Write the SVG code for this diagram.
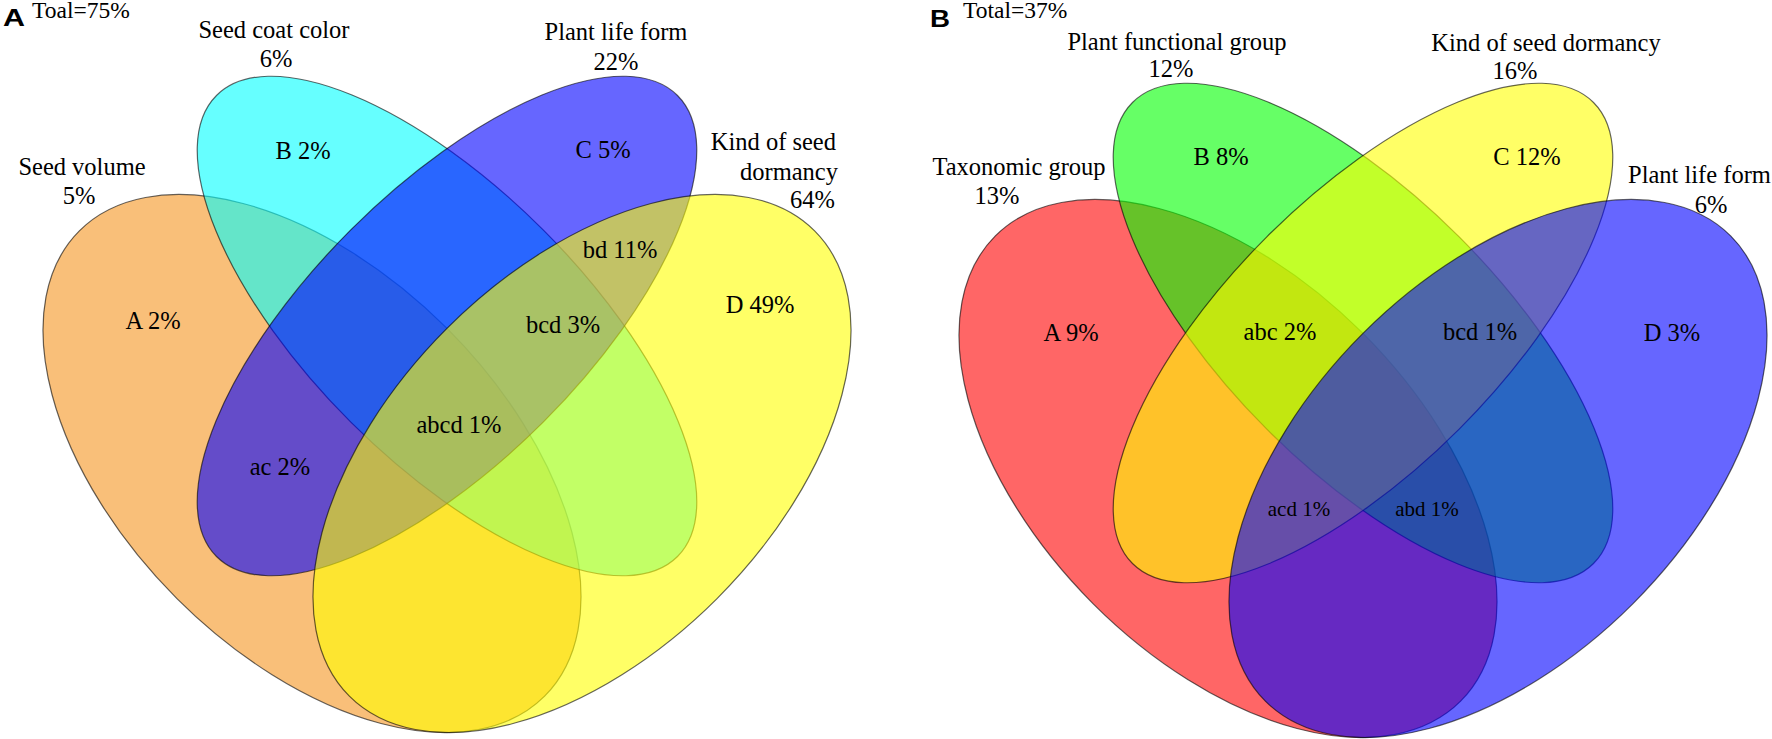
<svg xmlns="http://www.w3.org/2000/svg" width="1772" height="739" viewBox="0 0 1772 739">
<style>
.e{stroke:#000;stroke-opacity:.6;stroke-width:1.2;fill-opacity:.6}
.t{font-family:'Liberation Serif',serif;font-size:24.5px;fill:#000}
.m{text-anchor:middle}
.r{text-anchor:end}
.s{font-size:21px}
.p{font-family:'Liberation Sans',sans-serif;font-weight:bold;font-size:24px;fill:#000}
</style>
<rect width="1772" height="739" fill="#fff"/>
<g id="panelA" font-family="Liberation Serif, serif">
  <text class="p" x="3" y="26" textLength="22" lengthAdjust="spacingAndGlyphs">A</text>
  <text class="t" x="32" y="18" style="font-size:23.5px">Toal=75%</text>
  <g id="A_seed_volume">
    <ellipse class="e" fill="#F5941F" cx="0" cy="0" rx="329" ry="191" transform="translate(312 463.5) rotate(45)"/>
    <text class="t m" x="82" y="175">Seed volume</text>
    <text class="t m" x="79" y="204">5%</text>
  </g>
  <g id="A_seed_coat_color">
    <ellipse class="e" fill="#00FFFF" cx="0" cy="0" rx="326" ry="136" transform="translate(447 326) rotate(45)"/>
    <text class="t m" x="274" y="38">Seed coat color</text>
    <text class="t m" x="276" y="67">6%</text>
  </g>
  <g id="A_plant_life_form">
    <ellipse class="e" fill="#0000FF" cx="0" cy="0" rx="326" ry="136" transform="translate(447 326) rotate(-45)"/>
    <text class="t m" x="616" y="40">Plant life form</text>
    <text class="t m" x="616" y="70">22%</text>
  </g>
  <g id="A_kind_of_seed_dormancy">
    <ellipse class="e" fill="#FFFF00" cx="0" cy="0" rx="329" ry="191" transform="translate(582 463.5) rotate(-45)"/>
    <text class="t r" x="836" y="150">Kind of seed</text>
    <text class="t r" x="838" y="180">dormancy</text>
    <text class="t r" x="835" y="208">64%</text>
  </g>
  <g id="A_region_labels">
    <text class="t m" x="303" y="159">B 2%</text>
    <text class="t m" x="603" y="158">C 5%</text>
    <text class="t m" x="153" y="329">A 2%</text>
    <text class="t m" x="760" y="313">D 49%</text>
    <text class="t m" x="620" y="258">bd 11%</text>
    <text class="t m" x="563" y="333">bcd 3%</text>
    <text class="t m" x="459" y="433">abcd 1%</text>
    <text class="t m" x="280" y="475">ac 2%</text>
  </g>
</g>
<g id="panelB" font-family="Liberation Serif, serif">
  <text class="p" x="930" y="27" textLength="20" lengthAdjust="spacingAndGlyphs">B</text>
  <text class="t" x="963" y="18" style="font-size:23.5px">Total=37%</text>
  <g id="B_taxonomic_group">
    <ellipse class="e" fill="#FF0000" cx="0" cy="0" rx="329" ry="191" transform="translate(1228 468.5) rotate(45)"/>
    <text class="t m" x="1019" y="175">Taxonomic group</text>
    <text class="t m" x="997" y="204">13%</text>
  </g>
  <g id="B_plant_functional_group">
    <ellipse class="e" fill="#00FF00" cx="0" cy="0" rx="326" ry="136" transform="translate(1363 333) rotate(45)"/>
    <text class="t m" x="1177" y="50">Plant functional group</text>
    <text class="t m" x="1171" y="77">12%</text>
  </g>
  <g id="B_kind_of_seed_dormancy">
    <ellipse class="e" fill="#FFFF00" cx="0" cy="0" rx="326" ry="136" transform="translate(1363 333) rotate(-45)"/>
    <text class="t m" x="1546" y="51">Kind of seed dormancy</text>
    <text class="t m" x="1515" y="79">16%</text>
  </g>
  <g id="B_plant_life_form">
    <ellipse class="e" fill="#0000FF" cx="0" cy="0" rx="329" ry="191" transform="translate(1498 468.5) rotate(-45)"/>
    <text class="t" x="1628" y="183">Plant life form</text>
    <text class="t m" x="1711" y="213">6%</text>
  </g>
  <g id="B_region_labels">
    <text class="t m" x="1221" y="165">B 8%</text>
    <text class="t m" x="1527" y="165">C 12%</text>
    <text class="t m" x="1071" y="341">A 9%</text>
    <text class="t m" x="1672" y="341">D 3%</text>
    <text class="t m" x="1280" y="340">abc 2%</text>
    <text class="t m" x="1480" y="340">bcd 1%</text>
    <text class="t m s" x="1299" y="516">acd 1%</text>
    <text class="t m s" x="1427" y="516">abd 1%</text>
  </g>
</g>
<g id="connectors"/>
</svg>
